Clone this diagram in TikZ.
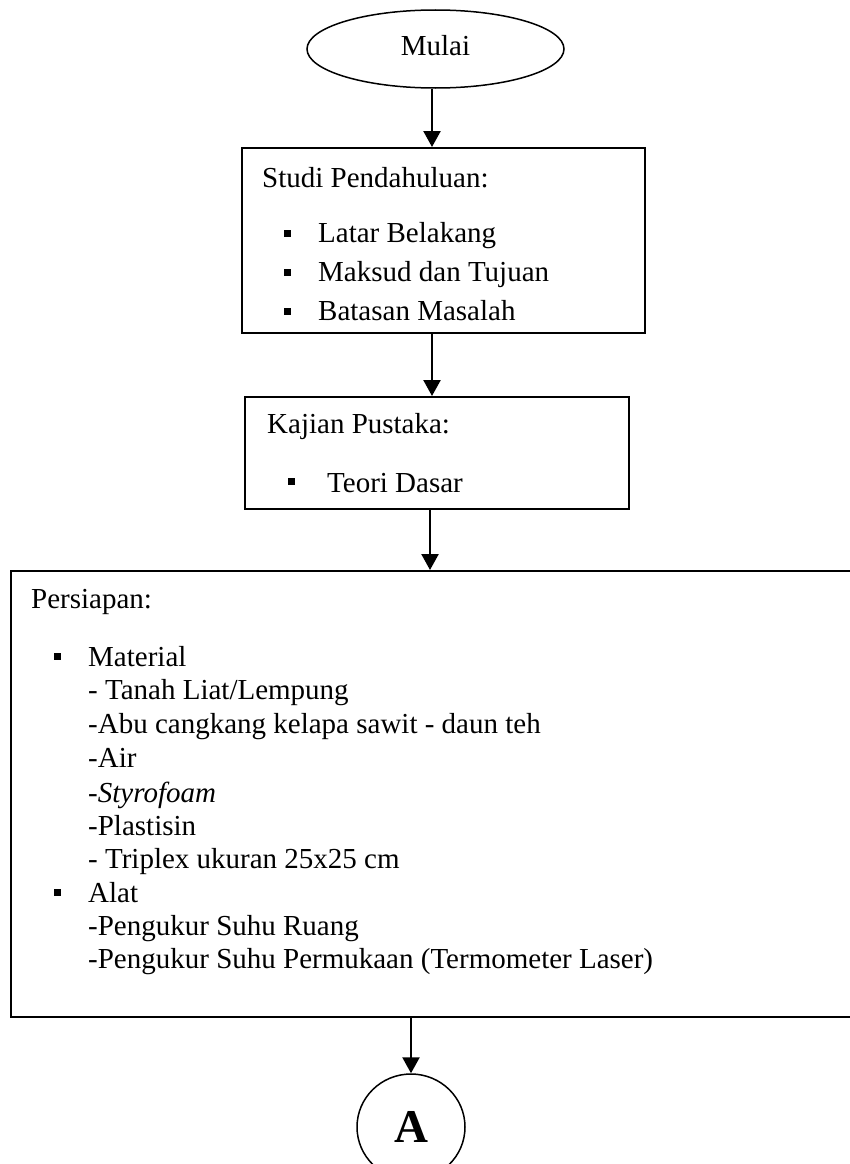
\documentclass[tikz,border=0pt]{standalone}
\usepackage{fontspec}
\setmainfont{Liberation Serif}
\usetikzlibrary{arrows.meta,shapes.geometric}
\tikzset{
  box/.style={draw, line width=2pt, rectangle, inner sep=0pt},
  oval/.style={draw, line width=1.5pt, ellipse, inner sep=0pt},
  arr/.style={line width=2.4pt, -{Triangle[width=17pt,length=16pt]}},
  txt/.style={anchor=base west, inner sep=0pt, font=\fontsize{29}{35}\selectfont},
  bul/.style={fill=black, draw=none},
}
\begin{document}
\begin{tikzpicture}[x=1pt,y=-1pt]
\clip (0,0) rectangle (850,1164);
\fill[white] (0,0) rectangle (850,1164);
% start
\node[oval, minimum width=257pt, minimum height=78pt, font=\fontsize{29}{35}\selectfont, text depth=8pt] (mulai) at (435.5,49) {Mulai};
% studi pendahuluan
\node[box, minimum width=403pt, minimum height=185pt] (studi) at (443.5,240.5) {};
\node[txt] (s0) at (262,187) {Studi Pendahuluan:};
\node[txt] (s1) at (318,242) {Latar Belakang};
\node[txt] (s2) at (318,281) {Maksud dan Tujuan};
\node[txt] (s3) at (318,320) {Batasan Masalah};
\foreach \y in {242,281,320} \fill[bul] (284,\y-5) rectangle (291,\y-12);
% kajian pustaka
\node[box, minimum width=384pt, minimum height=112pt] (kajian) at (437,453) {};
\node[txt] (k0) at (267,433) {Kajian Pustaka:};
\node[txt] (k1) at (327,492) {Teori Dasar};
\fill[bul] (288,485) rectangle (295,478);
% persiapan
\node[box, minimum width=860pt, minimum height=446pt] (persiapan) at (441,794) {};
\node[txt] (p0) at (31,608) {Persiapan:};
\node[txt] (p1) at (88,666) {Material};
\node[txt] (p2) at (88,699) {- Tanah Liat/Lempung};
\node[txt] (p3) at (88,733) {-Abu cangkang kelapa sawit - daun teh};
\node[txt] (p4) at (88,767) {-Air};
\node[txt] (p5) at (88,802) {-\textit{Styrofoam}};
\node[txt] (p6) at (88,835) {-Plastisin};
\node[txt] (p7) at (88,868) {- Triplex ukuran 25x25 cm};
\node[txt] (p8) at (88,902) {Alat};
\node[txt] (p9) at (88,935) {-Pengukur Suhu Ruang};
\node[txt] (p10) at (88,968) {-Pengukur Suhu Permukaan (Termometer Laser)};
\foreach \y in {666,902} \fill[bul] (54,\y-6) rectangle (61,\y-13);
% connector A
\node[oval, minimum width=108pt, minimum height=106pt, font=\fontsize{47}{50}\selectfont\bfseries] (A) at (411,1127) {A};
% arrows
\coordinate (a1) at (432,0);
\coordinate (a2) at (430,0);
\coordinate (a3) at (411,0);
\draw[arr] (a1 |- mulai.south) -- (a1 |- studi.north);
\draw[arr] (a1 |- studi.south) -- (a1 |- kajian.north);
\draw[arr] (a2 |- kajian.south) -- (a2 |- persiapan.north);
\draw[arr] (a3 |- persiapan.south) -- (A.north);
\end{tikzpicture}
\end{document}
